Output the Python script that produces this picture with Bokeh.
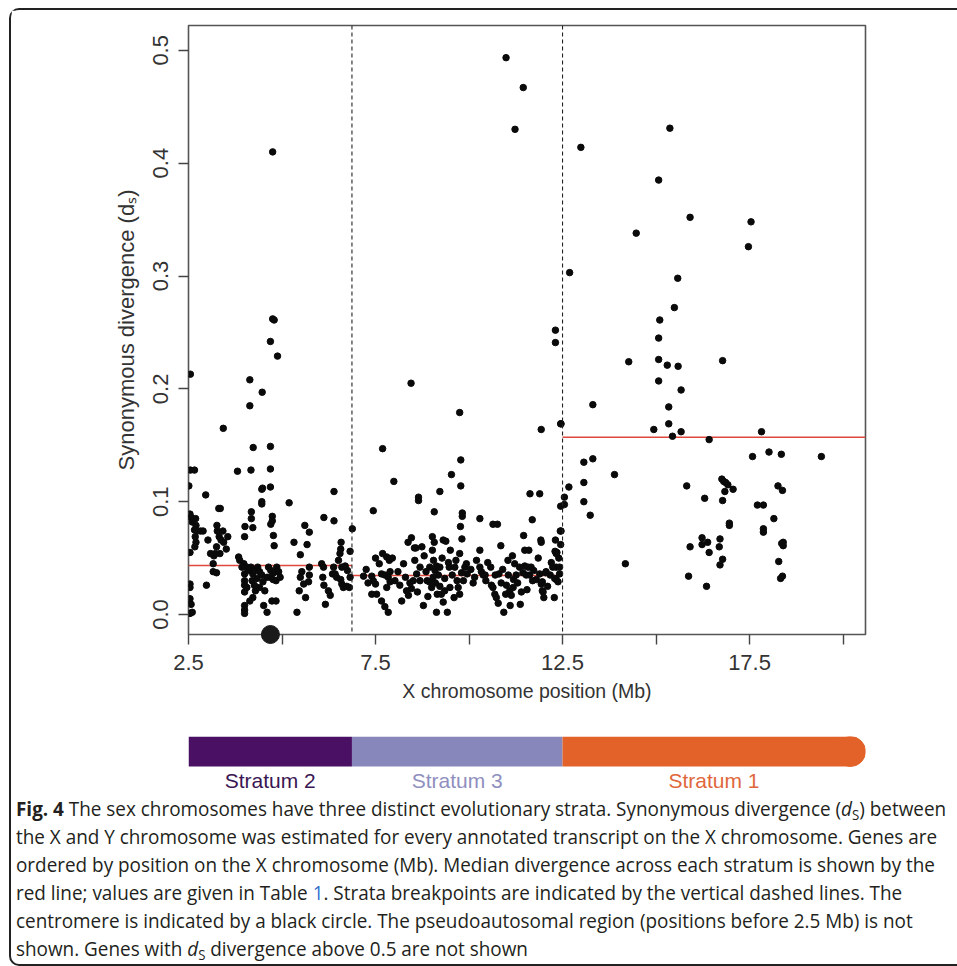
import math
from bokeh.plotting import figure
from bokeh.models import Range1d, FixedTicker, Span, Div
from bokeh.layouts import column
from bokeh.embed import file_html
from bokeh.resources import INLINE
from bokeh.core.properties import value

# ---------------- data ----------------
# Stratum 2 genes (position Mb, dS)
s2_pos = [4.75, 4.75, 4.79, 4.69, 4.88, 2.55, 4.14, 4.14, 4.47, 3.43, 4.23, 4.69, 2.55, 2.66, 3.81, 4.17,
          4.69, 4.46, 4.48, 4.69, 4.46, 4.46, 5.19, 2.96, 6.39, 4.18, 4.18, 4.22, 4.01, 4.00, 4.74, 4.74,
          4.70, 4.77, 4.79, 5.61, 5.73, 5.67, 5.49, 5.32, 6.12, 6.39,
          2.51, 2.54, 2.57, 2.60, 2.69, 2.70, 2.66, 2.73, 2.68, 2.70, 2.67, 2.54, 2.54, 2.54, 2.54, 2.57,
          2.54, 2.60, 2.82, 2.89, 2.98, 3.02, 3.09, 3.18, 3.22, 3.16, 3.16, 3.25, 3.26, 3.27, 3.32, 3.37,
          3.44, 3.31, 3.35, 3.51, 3.25, 3.34, 3.55, 3.42, 3.84, 3.87, 3.98, 3.93, 4.00, 4.00, 4.00, 4.00,
          4.00, 4.00, 4.00, 4.06, 4.10, 4.06, 4.17, 4.22, 4.20, 4.26, 4.26, 4.33, 4.29, 4.22, 4.14, 4.35,
          4.40, 4.46, 4.49, 4.40, 4.51, 4.60, 4.54, 4.60, 4.64, 4.70, 4.69, 4.76, 4.78, 4.84, 4.86, 4.91,
          4.95, 4.73, 4.84, 5.40, 5.46, 5.49, 5.53, 5.58, 5.63, 5.71, 5.73, 5.73, 6.06, 6.11, 6.09, 6.12,
          6.16, 6.24, 6.29, 6.35, 6.42, 6.46, 6.38, 6.51, 6.55, 6.57, 6.58, 6.60, 6.57, 6.60, 6.64, 6.73,
          6.80, 6.82, 6.82, 6.88, 6.69, 6.75]
s2_ds = [0.410, 0.262, 0.261, 0.242, 0.229, 0.213, 0.208, 0.185, 0.197, 0.165, 0.148, 0.149, 0.128, 0.128, 0.127, 0.128,
         0.129, 0.111, 0.112, 0.113, 0.100, 0.098, 0.099, 0.106, 0.109, 0.091, 0.085, 0.077, 0.078, 0.069, 0.087, 0.083,
         0.080, 0.070, 0.061, 0.079, 0.073, 0.062, 0.053, 0.064, 0.086, 0.083,
         0.114, 0.089, 0.086, 0.082, 0.085, 0.079, 0.075, 0.074, 0.069, 0.064, 0.060, 0.055, 0.027, 0.024, 0.014, 0.009,
         0.001, 0.002, 0.074, 0.074, 0.026, 0.066, 0.054, 0.052, 0.054, 0.045, 0.038, 0.037, 0.079, 0.074, 0.069, 0.066,
         0.064, 0.094, 0.094, 0.058, 0.060, 0.054, 0.069, 0.074, 0.051, 0.048, 0.045, 0.042, 0.036, 0.030, 0.026, 0.020,
         0.008, 0.004, 0.001, 0.042, 0.039, 0.024, 0.042, 0.036, 0.030, 0.039, 0.026, 0.032, 0.021, 0.015, 0.012, 0.042,
         0.038, 0.035, 0.029, 0.024, 0.008, 0.002, 0.021, 0.033, 0.042, 0.039, 0.033, 0.031, 0.037, 0.030, 0.042, 0.038,
         0.033, 0.012, 0.012, 0.002, 0.021, 0.033, 0.038, 0.027, 0.015, 0.029, 0.035, 0.042, 0.045, 0.042, 0.033, 0.026,
         0.009, 0.021, 0.017, 0.036, 0.036, 0.033, 0.042, 0.048, 0.054, 0.058, 0.064, 0.042, 0.031, 0.027, 0.024, 0.025,
         0.024, 0.033, 0.056, 0.076, 0.043, 0.039]

# Stratum 3 genes
s3_pos = [8.45, 9.75, 11.93, 7.69, 9.78, 9.53, 7.99, 9.78, 9.22, 11.63, 11.89, 8.65, 8.65, 7.44, 9.07, 9.82,
          9.82, 10.29, 10.64, 10.76, 11.69, 9.77, 9.81, 10.85, 11.46, 11.93, 12.44, 8.46, 8.54, 8.58, 8.74, 8.37,
          9.02, 9.07, 9.31, 9.38, 9.02, 9.50, 9.75, 10.29, 11.49, 11.60, 11.16, 11.04, 12.35, 7.69, 7.80, 7.87,
          7.50, 12.33, 12.42, 12.31, 12.31, 12.45, 10.99, 11.45, 11.23, 12.31,
          7.18, 7.40, 7.44, 7.50, 7.53, 7.40, 7.66, 7.75, 7.84, 7.89, 7.89, 7.80, 7.66, 7.75, 7.84, 8.02,
          8.20, 8.33, 8.38, 8.46, 8.42, 8.51, 8.69, 8.69, 8.78, 8.88, 8.95, 8.94, 9.00, 9.04, 9.09, 9.13,
          9.13, 9.22, 9.22, 9.15, 9.31, 9.26, 9.35, 9.42, 9.47, 9.49, 9.62, 9.68, 9.71, 9.75, 9.80, 9.89,
          9.93, 10.11, 10.29, 10.33, 10.38, 10.43, 10.58, 10.60, 10.64, 10.69, 10.73, 10.80, 10.86, 10.93, 10.98, 11.00,
          11.09, 11.13, 11.18, 11.19, 11.26, 11.35, 11.37, 11.40, 11.44, 11.49, 11.53, 11.58, 11.62, 11.66, 11.73, 11.80,
          11.89, 11.93, 11.98, 12.00, 12.06, 12.17, 12.24, 12.33, 12.38, 12.42,
          7.25, 7.30, 7.60, 7.95, 8.10, 8.15, 8.25, 8.30, 8.55, 8.60, 8.62, 8.80, 8.85, 8.90, 9.05, 9.10,
          9.18, 9.28, 9.35, 9.45, 9.55, 9.60, 9.65, 9.85, 9.95, 10.05, 10.15, 10.20, 10.45, 10.50, 10.70, 10.78,
          10.90, 11.05, 11.10, 11.22, 11.30, 11.55, 11.70, 11.85, 12.10, 12.20, 12.28, 12.40, 12.45,
          12.30, 12.33, 12.29, 12.05, 11.96, 11.96, 11.92]
s3_ds = [0.205, 0.179, 0.164, 0.147, 0.137, 0.124, 0.118, 0.114, 0.109, 0.107, 0.107, 0.104, 0.101, 0.092, 0.091, 0.090,
         0.087, 0.085, 0.080, 0.080, 0.084, 0.078, 0.067, 0.061, 0.070, 0.064, 0.074, 0.068, 0.059, 0.059, 0.060, 0.064,
         0.069, 0.064, 0.066, 0.065, 0.057, 0.057, 0.054, 0.057, 0.057, 0.057, 0.052, 0.048, 0.055, 0.054, 0.051, 0.048,
         0.050, 0.042, 0.042, 0.252, 0.241, 0.169, 0.4935, 0.467, 0.430, 0.066,
         0.034, 0.034, 0.030, 0.027, 0.018, 0.018, 0.036, 0.035, 0.033, 0.038, 0.029, 0.024, 0.012, 0.007, 0.002, 0.030,
         0.012, 0.021, 0.017, 0.023, 0.028, 0.030, 0.030, 0.042, 0.008, 0.030, 0.042, 0.029, 0.024, 0.033, 0.039, 0.043,
         0.002, 0.042, 0.025, 0.018, 0.011, 0.018, 0.021, 0.002, 0.042, 0.024, 0.042, 0.030, 0.024, 0.018, 0.037, 0.042,
         0.045, 0.028, 0.042, 0.038, 0.035, 0.035, 0.042, 0.026, 0.024, 0.018, 0.015, 0.036, 0.028, 0.002, 0.018, 0.026,
         0.021, 0.017, 0.024, 0.031, 0.035, 0.042, 0.009, 0.020, 0.037, 0.043, 0.035, 0.042, 0.035, 0.042, 0.039, 0.031,
         0.036, 0.027, 0.020, 0.015, 0.038, 0.035, 0.042, 0.031, 0.029, 0.036,
         0.040, 0.028, 0.045, 0.050, 0.038, 0.026, 0.045, 0.033, 0.048, 0.036, 0.020, 0.052, 0.038, 0.016, 0.048, 0.028,
         0.035, 0.050, 0.032, 0.046, 0.035, 0.015, 0.048, 0.030, 0.036, 0.040, 0.033, 0.048, 0.030, 0.046, 0.035, 0.010,
         0.040, 0.035, 0.008, 0.045, 0.028, 0.022, 0.030, 0.050, 0.025, 0.046, 0.015, 0.050, 0.062,
         0.056, 0.054, 0.032, 0.037, 0.029, 0.021, 0.066]

# Stratum 1 genes
s1_pos = [12.99, 15.37, 15.07, 15.91, 17.54, 14.47, 17.47, 12.69, 15.58, 15.49, 15.10, 15.07, 14.27, 15.07, 16.78, 15.30,
          15.59, 15.07, 15.67, 13.31, 15.34, 15.34, 12.46, 14.94, 15.44, 15.67, 17.82, 16.42, 17.58, 18.02, 18.35, 19.42,
          13.07, 13.31, 13.89, 13.07, 12.67, 12.55, 12.45, 12.55, 13.07, 13.24, 15.82, 16.30, 16.76, 16.81, 16.86, 16.92,
          16.84, 17.06, 16.78, 16.96, 16.96, 17.71, 17.87, 18.26, 18.38, 18.15, 17.87, 17.87, 18.40, 18.36, 18.40, 18.28,
          18.38, 18.33, 16.23, 15.91, 16.23, 16.38, 16.42, 16.71, 16.69, 16.78, 16.71, 15.87, 16.35, 14.18, 12.46]
s1_ds = [0.414, 0.431, 0.385, 0.352, 0.348, 0.338, 0.326, 0.303, 0.298, 0.272, 0.261, 0.245, 0.224, 0.226, 0.225, 0.221,
         0.220, 0.207, 0.199, 0.186, 0.184, 0.169, 0.169, 0.164, 0.158, 0.162, 0.162, 0.155, 0.140, 0.144, 0.142, 0.140,
         0.135, 0.138, 0.124, 0.117, 0.113, 0.104, 0.096, 0.0975, 0.100, 0.088, 0.114, 0.103, 0.120, 0.118, 0.117, 0.115,
         0.109, 0.111, 0.101, 0.081, 0.079, 0.097, 0.097, 0.114, 0.110, 0.085, 0.076, 0.073, 0.064, 0.063, 0.061, 0.047,
         0.034, 0.032, 0.068, 0.060, 0.062, 0.064, 0.055, 0.067, 0.060, 0.049, 0.044, 0.034, 0.025, 0.045, 0.074]

strata_names = ["Stratum 2", "Stratum 3", "Stratum 1"]
strata_start = [2.5, 6.87, 12.5]
strata_end = [6.87, 12.5, 20.6]
strata_median = [0.0434, 0.0346, 0.157]
strata_fill = ["#4a1063", "#8787bb", "#e2622a"]
strata_text = ["#3a1652", "#8f8fc0", "#e0673c"]
breakpoints = [6.87, 12.5]
centromere_pos = [4.69]

x_ticks = [2.5, 5.0, 7.5, 10.0, 12.5, 15.0, 17.5, 20.0]
x_tick_labels = ["2.5", "", "7.5", "", "12.5", "", "17.5", ""]
y_ticks = [0.0, 0.1, 0.2, 0.3, 0.4, 0.5]
y_tick_labels = ["0.0", "0.1", "0.2", "0.3", "0.4", "0.5"]

caption_lines = [
    '<b>Fig. 4</b> The sex chromosomes have three distinct evolutionary strata. Synonymous divergence (<i>d</i><sub>S</sub>) between',
    'the X and Y chromosome was estimated for every annotated transcript on the X chromosome. Genes are',
    'ordered by position on the X chromosome (Mb). Median divergence across each stratum is shown by the',
    'red line; values are given in Table <span style="color:#2f6fd0">1</span>. Strata breakpoints are indicated by the vertical dashed lines. The',
    'centromere is indicated by a black circle. The pseudoautosomal region (positions before 2.5 Mb) is not',
    'shown. Genes with <i>d</i><sub>S</sub> divergence above 0.5 are not shown',
]

# ---------------- main plot ----------------
XR = (2.5, 20.6)
YR = (-0.0177, 0.522)
FONT = "Liberation Sans"
AX = "#444444"

p = figure(width=917, height=704, x_range=Range1d(*XR), y_range=Range1d(*YR),
           output_backend="svg", toolbar_location=None,
           min_border_left=177, min_border_right=63, min_border_top=15, min_border_bottom=80)
p.grid.visible = False
p.outline_line_color = "#555555"
p.outline_line_width = 1.6

for ax in (p.xaxis[0], p.yaxis[0]):
    ax.axis_line_color = None
    ax.major_tick_line_color = AX
    ax.major_tick_line_width = 1.4
    ax.major_tick_out = 10
    ax.major_tick_in = 0
    ax.minor_tick_line_color = None
    ax.major_label_text_font = FONT
    ax.major_label_text_font_size = "22px"
    ax.major_label_text_color = "#333333"
    ax.axis_label_text_font = FONT
    ax.axis_label_text_font_style = "normal"
    ax.axis_label_text_color = "#333333"

p.xaxis.ticker = FixedTicker(ticks=x_ticks)
p.xaxis.major_label_overrides = dict(zip(x_ticks, x_tick_labels))
p.xaxis.major_label_standoff = 10
p.xaxis.axis_label = "X chromosome position (Mb)"
p.xaxis.axis_label_text_font_size = "19.5px"
p.xaxis.axis_label_standoff = 7

p.yaxis.ticker = FixedTicker(ticks=y_ticks)
p.yaxis.major_label_overrides = dict(zip(y_ticks, y_tick_labels))
p.yaxis.major_label_orientation = "vertical"
p.yaxis.major_label_standoff = 10
p.yaxis.axis_label = "Synonymous divergence (dₛ)"
p.yaxis.axis_label_text_font_size = "22px"
p.yaxis.axis_label_standoff = 12

for b in breakpoints:
    p.add_layout(Span(location=b, dimension="height", line_color="#222222",
                      line_dash="4 3", line_width=1.1))

p.segment(x0=strata_start, x1=strata_end, y0=strata_median, y1=strata_median,
          line_color="#e0483e", line_width=1.5)

p.scatter(s2_pos + s3_pos + s1_pos, s2_ds + s3_ds + s1_ds, size=6.5, color="#0a0a0a")

p.scatter(centromere_pos, [YR[0]], size=18, color="#1a1a1a", level="overlay")

# ---------------- strata bar ----------------
bar = figure(width=917, height=80, x_range=Range1d(*XR), y_range=Range1d(-0.933, 1.0),
             output_backend="svg", toolbar_location=None, x_axis_type=None, y_axis_type=None,
             min_border_left=177, min_border_right=63, min_border_top=22, min_border_bottom=0)
bar.grid.visible = False
bar.outline_line_color = None
cap_end = [strata_end[0], strata_end[1], strata_end[2] - 0.4]
bar.quad(left=strata_start, right=cap_end, bottom=0, top=1, fill_color=strata_fill, line_color=None)
bar.scatter([strata_end[2] - 0.4], [0.5], size=30, color=strata_fill[2])
mid = [(a + b) / 2 for a, b in zip(strata_start, strata_end)]
bar.text(x=mid, y=[-0.45] * 3, text=strata_names, text_color=strata_text,
         text_font=value(FONT), text_font_size="21px", text_align="center", text_baseline="middle")

# ---------------- caption ----------------
caption_html = ('<div style="font-family:\'Open Sans\',sans-serif;font-size:20px;'
                'line-height:28px;color:#231f20;white-space:nowrap;margin-top:-4px;'
                'transform:scaleX(0.945);transform-origin:0 0;">'
                + '<br>'.join(caption_lines) + '</div>')
caption_html = caption_html.replace('<sub>', '<sub style="font-size:0.7em;line-height:0;vertical-align:-0.3em">')
cap = Div(text=caption_html, width=944, height=160)

layout = column(p, bar, cap, styles={
    "margin-left": "9px", "margin-top": "8px",
    "border-top": "2px solid #222", "border-left": "2px solid #222", "border-bottom": "2px solid #222",
    "border-radius": "10px 0 0 10px"})

open("out.html", "w").write(file_html(layout, INLINE))
